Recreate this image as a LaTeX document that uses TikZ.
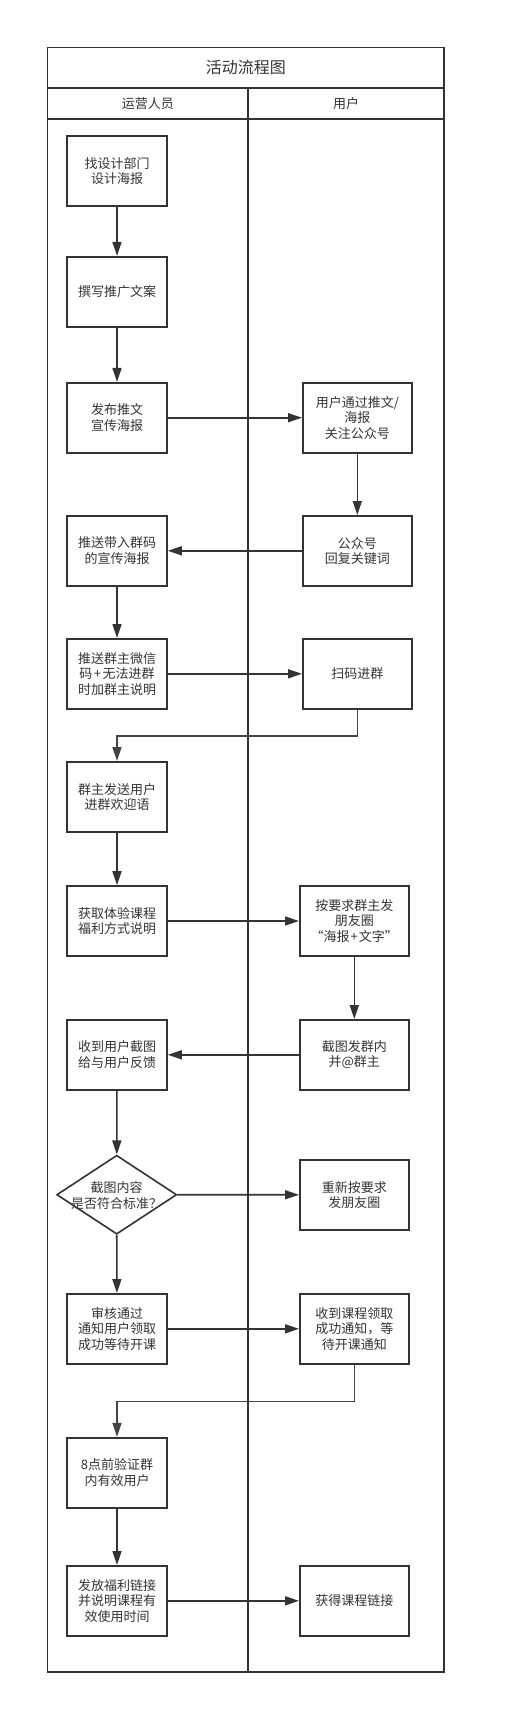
\documentclass[tikz,border=0pt]{standalone}
\usepackage{fontspec}
\setmainfont{Noto Sans CJK SC}
\usetikzlibrary{arrows.meta, shapes.geometric}
\definecolor{ink}{HTML}{333333}
\definecolor{wire}{HTML}{444444}

\begin{document}
\begin{tikzpicture}[x=1pt, y=-1pt, font=\fontsize{13}{15.5}\selectfont, text=ink,
    lane/.style={draw=ink, line width=1.8pt},
    task/.style={draw=ink, line width=1.6pt, minimum width=100pt, minimum height=70pt, inner sep=0pt, align=center},
    wide task/.style={task, minimum width=109pt},
    decision/.style={draw=ink, line width=1.6pt, shape=diamond, minimum width=120pt, minimum height=79pt, inner sep=0pt},
    flow/.style={-{Triangle[length=14pt,width=9pt]}, draw=ink, line width=1.6pt},
    elbow/.style={flow, draw=wire, line width=1.4pt}]
    \useasboundingbox (0,0) rectangle (507,1735);

    % swimlane frame
    \draw[lane] (47.5,47.5) rectangle (444,1672.3);
    \draw[lane] (47.5,88) -- (444,88);
    \draw[lane, line width=1.2pt] (47.5,119) -- (444,119);
    \draw[lane] (248,88) -- (248,1672.3);
    \node (title) at (245.8,67.8) [font=\fontsize{16}{18}\selectfont] {活动流程图};
    \node (ops head) at (147.8,103.5) {运营人员};
    \node (user head) at (346,103.5) {用户};

    \node (design) at (117,170.8) [task] {找设计部门\\设计海报};
    \node (copy) at (117,291.7) [task] {撰写推广文案};
    \node (publish) at (117,417.7) [task] {发布推文\\宣传海报};
    \node (follow) at (357.3,417.7) [wide task] {用户通过推文/\\海报\\关注公众号};

    \draw[flow] (design) -- (copy);
    \draw[flow] (copy) -- (publish);
    \draw[flow] (publish) -- (follow);

    \node (reply) at (357.3,550.8) [wide task] {公众号\\回复关键词};
    \node (group poster) at (117,550.8) [task] {推送带入群码\\的宣传海报};
    \node (owner code) at (117,673.8) [task] {推送群主微信\\码\kern1.5pt+\kern1.5pt无法进群\\时加群主说明};
    \node (scan) at (357.3,673.8) [wide task] {扫码进群};

    \draw[flow] (follow) -- (reply);
    \draw[flow] (reply) -- (group poster);
    \draw[flow] (group poster) -- (owner code);
    \draw[flow] (owner code) -- (scan);

    \node (welcome) at (117,796.8) [task] {群主发送用户\\进群欢迎语};
    \node (perks) at (117,921) [task] {获取体验课程\\福利方式说明};
    \node (moments) at (354.3,921) [wide task] {按要求群主发\\朋友圈\\“海报\kern1pt+\kern1pt文字”};

    \draw[elbow] (scan.south) -- ++(0,26.5) -| (welcome.north);
    \draw[flow] (welcome) -- (perks);
    \draw[flow] (perks) -- (moments);

    \node (screenshot) at (354.3,1054.8) [wide task] {截图发群内\\并@群主};
    \node (feedback) at (117,1054.8) [task] {收到用户截图\\给与用户反馈};
    \node (check) at (116.7,1194.7) [decision] {};
    \node (check text) at (116.7,1195.5) [align=center] {截图内容\\是否符合标准？};
    \node (repost) at (354.3,1194.8) [wide task] {重新按要求\\发朋友圈};

    \draw[flow] (moments) -- (screenshot);
    \draw[flow] (screenshot) -- (feedback);
    \draw[flow] (feedback) -- (check);
    \draw[flow] (check) -- (repost);

    \node (approved) at (117,1328.8) [task] {审核通过\\通知用户领取\\成功等待开课};
    \node (notified) at (354.3,1328.8) [wide task] {收到课程领取\\成功通知，等\\待开课通知};

    \draw[flow] (check) -- (approved);
    \draw[flow] (approved) -- (notified);

    \node (verify) at (117,1472.7) [task] {8点前验证群\\内有效用户};
    \node (link out) at (117,1600.8) [task] {发放福利链接\\并说明课程有\\效使用时间};
    \node (link in) at (354.3,1600.8) [wide task] {获得课程链接};

    \draw[elbow] (notified.south) -- ++(0,36.9) -| (verify.north);
    \draw[flow] (verify) -- (link out);
    \draw[flow] (link out) -- (link in);
\end{tikzpicture}
\end{document}
